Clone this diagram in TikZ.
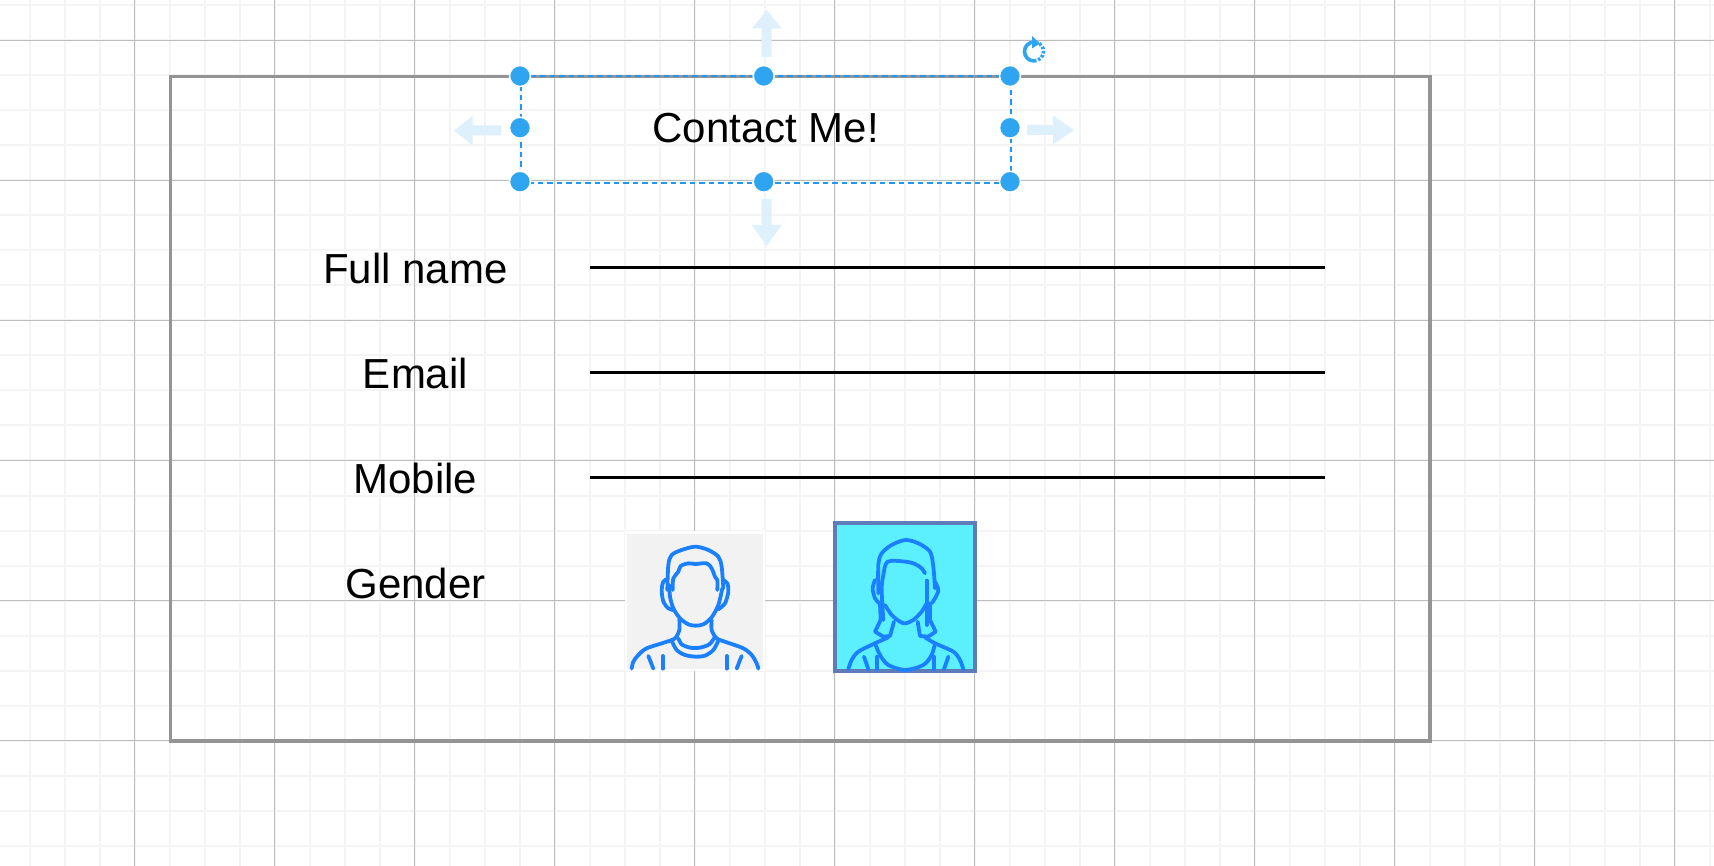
\documentclass[tikz,border=0pt]{standalone}
\usepackage{fontspec}
\usepackage{xcolor}
\setmainfont{Liberation Sans}
\usetikzlibrary{arrows.meta}
\definecolor{gridminor}{HTML}{F4F4F4}
\definecolor{gridmajor}{HTML}{BDBDBD}
\definecolor{framegray}{HTML}{949494}
\definecolor{selblue}{HTML}{2196F3}
\definecolor{hdlblue}{HTML}{2FA5F2}
\definecolor{ghostblue}{HTML}{DDF0FB}
\definecolor{iconblue}{HTML}{1A80FF}
\definecolor{pickfill}{HTML}{5CF0FF}
\definecolor{pickedge}{HTML}{5F7CB8}
\newcommand{\facepath}[1]{\draw[Icon] plot[smooth] coordinates {#1};}

\begin{document}
\begin{tikzpicture}[x=1pt, y=-1pt]
    \tikzset{Lbl/.style={inner sep=0pt, font=\fontsize{42}{48}\selectfont},
             Hdl/.style={circle, draw=white, fill=hdlblue, line width=1.5pt,
                       minimum size=21pt, inner sep=0pt},
             Rule/.style={line width=3.3pt, black},
             Sel/.style={draw=selblue, line width=2pt, dash pattern=on 5.5pt off 4pt},
             Ghost/.style={fill=ghostblue, draw=none},
             Icon/.style={draw=iconblue, line width=3.8pt, line cap=round, line join=round}}
    \useasboundingbox (0,0) rectangle (1714,866);
    \fill[white] (0,0) rectangle (1714,866);
    % grid
    \foreach \gx in {29.5,64.5,...,1714} \draw[gridminor, line width=2pt] (\gx,0) -- (\gx,866);
    \foreach \gy in {5.5,40.5,...,866} \draw[gridminor, line width=2pt] (0,\gy) -- (1714,\gy);
    \foreach \gx in {134.5,274.5,...,1714} \draw[gridmajor, line width=1.3pt] (\gx,0) -- (\gx,866);
    \foreach \gy in {40.5,180.5,...,866} \draw[gridmajor, line width=1.3pt] (0,\gy) -- (1714,\gy);

    % form
    \draw[framegray, line width=3.4pt] (170.5,76.5) rectangle (1430,741);
    \node[Lbl] (title) at (765.7,128.4) {Contact Me!};
    \node[Lbl] (fullname) at (415.5,268) {Full name};
    \node[Lbl] (email) at (415.5,373) {Email};
    \node[Lbl] (mobile) at (415.5,478) {Mobile};
    \node[Lbl] (gender) at (415.5,583) {Gender};
    \coordinate (a1) at (590,267.3); \coordinate (a2) at (1325,267.3);
    \coordinate (b1) at (590,372.3); \coordinate (b2) at (1325,372.3);
    \coordinate (c1) at (590,477.3); \coordinate (c2) at (1325,477.3);
    \draw[Rule] (a1) -- (a2);
    \draw[Rule] (b1) -- (b2);
    \draw[Rule] (c1) -- (c2);

    % avatars
    \fill[white] (625,531) rectangle (765,671);
    \fill[gray!10] (627,533.5) rectangle (763,669);
    \begin{scope}[shift={(610,510)}, x=0.3333pt, y=-0.3333pt]
      \facepath{(172,240) (175,165) (185,135) (215,120) (256,110) (295,120) (325,140) (335,170) (340,235)}
      \facepath{(188,240) (190,205) (205,185) (212,168) (235,160) (256,162) (290,160) (305,175) (315,200) (322,210) (322,240)}
      \facepath{(178,225) (180,260) (190,295) (210,325) (235,343) (256,347) (280,343) (305,322) (325,285) (337,235)}
      \facepath{(172,207) (160,215) (155,240) (160,275) (175,295) (190,300)}
      \facepath{(340,210) (352,220) (355,245) (345,280) (325,298)}
      \facepath{(208,328) (208,360) (195,385) (165,397) (110,415) (85,435) (70,455) (65,476)}
      \facepath{(305,330) (305,360) (320,385) (350,397) (400,415) (425,435) (440,460) (445,476)}
      \facepath{(185,392) (200,420) (225,435) (256,440) (285,437) (310,420) (325,392)}
      \facepath{(205,385) (215,403) (240,413) (270,413) (298,403) (312,385)}
      \draw[Icon] (115,438) -- (130,476);
      \draw[Icon] (158,438) -- (158,476);
      \draw[Icon] (350,438) -- (350,476);
      \draw[Icon] (395,438) -- (380,476);
    \end{scope}
    \draw[fill=pickfill, draw=pickedge, line width=3.8pt] (835,523) rectangle (975,671);
    \begin{scope}[shift={(820,510)}, x=0.3333pt, y=-0.3333pt]
      \facepath{(175,250) (175,165) (185,130) (215,105) (256,90) (295,100) (330,125) (340,170) (345,235)}
      \facepath{(190,330) (185,240) (190,195) (203,155) (256,155) (285,162) (305,175) (315,190)}
      \facepath{(195,285) (215,315) (240,335) (256,340) (280,330) (305,305) (320,280)}
      \draw[Icon] (320,212) -- (320,345);
      \facepath{(165,210) (158,235) (165,265) (178,280)}
      \facepath{(345,215) (355,240) (345,265) (335,280)}
      \draw[Icon] (180,280) -- (182,330) -- (165,365) -- (190,380) -- (210,378) -- (222,335);
      \draw[Icon] (330,280) -- (330,330) -- (347,365) -- (325,380) -- (300,378) -- (293,335);
      \facepath{(205,382) (165,400) (115,425) (95,450) (85,478)}
      \facepath{(315,382) (345,400) (400,425) (420,450) (430,478)}
      \facepath{(165,400) (180,435) (205,465) (256,480) (310,465) (335,435) (345,400)}
      \draw[Icon] (132,440) -- (145,478);
      \draw[Icon] (172,440) -- (172,478);
      \draw[Icon] (342,440) -- (342,478);
      \draw[Icon] (385,440) -- (372,478);
    \end{scope}

    % ghost arrows
    \fill[Ghost] (761.5,57) -- (761.5,28.5) -- (752,28.5) -- (766.7,10) -- (781.5,28.5) -- (771.5,28.5) -- (771.5,57) -- cycle;
    \fill[Ghost] (761.5,199) -- (761.5,225) -- (752,225) -- (766.7,246) -- (781.5,225) -- (771.5,225) -- (771.5,199) -- cycle;
    \fill[Ghost] (501,125.5) -- (472.7,125.5) -- (472.7,116) -- (454,130.7) -- (472.7,145.5) -- (472.7,135.5) -- (501,135.5) -- cycle;
    \fill[Ghost] (1027,125) -- (1053,125) -- (1053,115.5) -- (1074,130) -- (1053,144.5) -- (1053,135) -- (1027,135) -- cycle;

    % selection
    \coordinate (s1) at (521,76.5); \coordinate (s2) at (1011,76.5);
    \coordinate (s3) at (1011,182.7); \coordinate (s4) at (521,182.7);
    \draw[Sel] (s1) -- (s2) -- (s3) -- (s4) -- cycle;
    \foreach \hname/\hx/\hy in {nw/520/76, n/763.7/76, ne/1010/76, w/520/127.7, e/1010/127.7, sw/520/181.7, s/763.7/181.7, se/1010/181.7}
      \node[Hdl] (h\hname) at (\hx,\hy) {};

    % rotate icon
    \draw[hdlblue, line width=3.6pt] (1034,42) arc[start angle=-90, end angle=-270, radius=9.5];
    \draw[hdlblue, line width=3.6pt, dash pattern=on 2.5pt off 1.8pt] (1034,61) arc[start angle=90, end angle=-70, radius=9.5];
    \fill[hdlblue] (1032,36) -- (1040,43.5) -- (1032,48.5) -- cycle;
  \end{tikzpicture}
\end{document}
